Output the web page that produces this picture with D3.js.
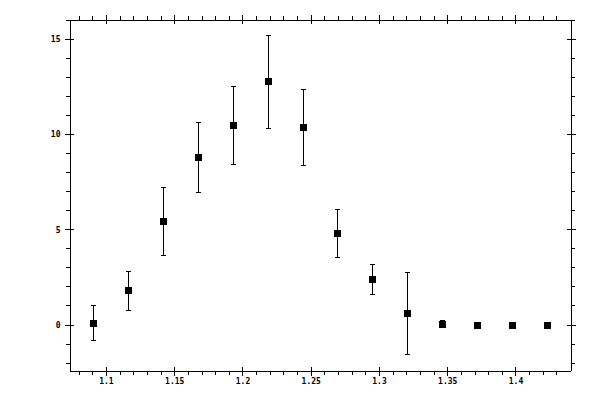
<!DOCTYPE html>
<html>
<head>
<meta charset="utf-8">
<script src="https://cdn.jsdelivr.net/npm/d3@7"></script>
<style>
  html, body { margin: 0; padding: 0; background: #fff; }
  svg { display: block; }
  .axis text { font-family: "DejaVu Sans Mono", monospace; font-size: 8px; font-weight: bold; fill: #000; }
  .axis line, .axis path { stroke: #000; stroke-width: 1; shape-rendering: crispEdges; }
</style>
</head>
<body>
<svg id="chart" width="600" height="400"></svg>
<script>
// ---- data ----
const xValues = [1.0902, 1.1158, 1.1415, 1.1672, 1.1928, 1.2185, 1.2442, 1.2693, 1.2947, 1.3204, 1.3463, 1.3717, 1.3973, 1.4230];
const yValues = [0.10, 1.79, 5.47, 8.79, 10.47, 12.79, 10.37, 4.79, 2.37, 0.63, 0.05, 0.00, 0.00, 0.00];
const yHigh   = [1.05, 2.84, 7.21, 10.63, 12.53, 15.21, 12.37, 6.08, 3.16, 2.74, 0.25, 0.00, 0.00, 0.00];
const yLow    = [-0.79, 0.74, 3.68, 6.95, 8.42, 10.32, 8.37, 3.53, 1.63, -1.53, -0.15, 0.00, 0.00, 0.00];
const xMajorTicks = [1.1, 1.15, 1.2, 1.25, 1.3, 1.35, 1.4];
const xTickLabels = ["1.1", "1.15", "1.2", "1.25", "1.3", "1.35", "1.4"];
const yMajorTicks = [0, 5, 10, 15];
const yTickLabels = ["0", "5", "10", "15"];

// ---- layout ----
const L = 69.5, R = 570.5, T = 20, B = 370.5;
const svg = d3.select("#chart");

const x = d3.scaleLinear().domain([1.0733, 1.4403]).range([L, R]);
const y = d3.scaleLinear().domain([-2.42, 16.02]).range([B, T]);

const xMinor = d3.range(108, 145).map(v => v / 100)
  .filter(v => v > x.domain()[0] + 1e-4 && v < x.domain()[1] - 1e-3)
  .filter(v => !xMajorTicks.some(m => Math.abs(m - v) < 1e-6));
const yMinor = d3.range(-2, 17)
  .filter(v => v > y.domain()[0] && v < y.domain()[1])
  .filter(v => !yMajorTicks.includes(v));

const xFmt = d => xTickLabels[xMajorTicks.findIndex(m => Math.abs(m - d) < 1e-9)];
const yFmt = d => yTickLabels[yMajorTicks.indexOf(d)];

function addAxis(axis, tx, ty) {
  const g = svg.append("g").attr("class", "axis").attr("transform", `translate(${tx},${ty})`).call(axis);
  return g;
}

// Bottom axis
addAxis(d3.axisBottom(x).tickValues(xMajorTicks).tickSize(5).tickSizeOuter(0).tickPadding(3).tickFormat(xFmt), 0, B);
addAxis(d3.axisTop(x).tickValues(xMajorTicks).tickSize(4).tickSizeOuter(0).tickFormat(""), 0, B);
addAxis(d3.axisBottom(x).tickValues(xMinor).tickSize(4).tickSizeOuter(0).tickFormat(""), 0, B);
// Top axis
addAxis(d3.axisTop(x).tickValues(xMajorTicks).tickSize(5).tickSizeOuter(0).tickFormat(""), 0, T);
addAxis(d3.axisBottom(x).tickValues(xMajorTicks).tickSize(4).tickSizeOuter(0).tickFormat(""), 0, T);
addAxis(d3.axisTop(x).tickValues(xMinor).tickSize(4).tickSizeOuter(0).tickFormat(""), 0, T);
// Left axis
addAxis(d3.axisLeft(y).tickValues(yMajorTicks).tickSize(5).tickSizeOuter(0).tickPadding(4).tickFormat(yFmt), L, 0);
addAxis(d3.axisRight(y).tickValues(yMajorTicks).tickSize(4).tickSizeOuter(0).tickFormat(""), L, 0);
addAxis(d3.axisLeft(y).tickValues(yMinor).tickSize(4).tickSizeOuter(0).tickFormat(""), L, 0);
// Right axis
addAxis(d3.axisRight(y).tickValues(yMajorTicks).tickSize(5).tickSizeOuter(0).tickFormat(""), R, 0);
addAxis(d3.axisLeft(y).tickValues(yMajorTicks).tickSize(4).tickSizeOuter(0).tickFormat(""), R, 0);
addAxis(d3.axisRight(y).tickValues(yMinor).tickSize(4).tickSizeOuter(0).tickFormat(""), R, 0);

// ---- data marks ----
const data = xValues.map((xv, i) => ({ x: xv, y: yValues[i], hi: yHigh[i], lo: yLow[i] }));
const withErr = data.filter(d => d.hi !== d.lo);
const px = v => Math.round(x(v)) + 0.5;
const capW = 2.5;

const eg = svg.append("g").attr("stroke", "#000").attr("stroke-width", 1).attr("shape-rendering", "crispEdges");
eg.selectAll("line.v").data(withErr).join("line").attr("class", "v")
  .attr("x1", d => px(d.x)).attr("x2", d => px(d.x))
  .attr("y1", d => y(d.hi)).attr("y2", d => y(d.lo));
eg.selectAll("line.t").data(withErr).join("line").attr("class", "t")
  .attr("x1", d => px(d.x) - capW).attr("x2", d => px(d.x) + capW)
  .attr("y1", d => Math.round(y(d.hi)) + 0.5).attr("y2", d => Math.round(y(d.hi)) + 0.5);
eg.selectAll("line.b").data(withErr).join("line").attr("class", "b")
  .attr("x1", d => px(d.x) - capW).attr("x2", d => px(d.x) + capW)
  .attr("y1", d => Math.round(y(d.lo)) + 0.5).attr("y2", d => Math.round(y(d.lo)) + 0.5);

const sq = 7;
svg.append("g").selectAll("rect").data(data).join("rect")
  .attr("x", d => px(d.x) - sq / 2)
  .attr("y", d => Math.round(y(d.y)) + 0.5 - sq / 2)
  .attr("width", sq).attr("height", sq)
  .attr("fill", "#000");
</script>
</body>
</html>
